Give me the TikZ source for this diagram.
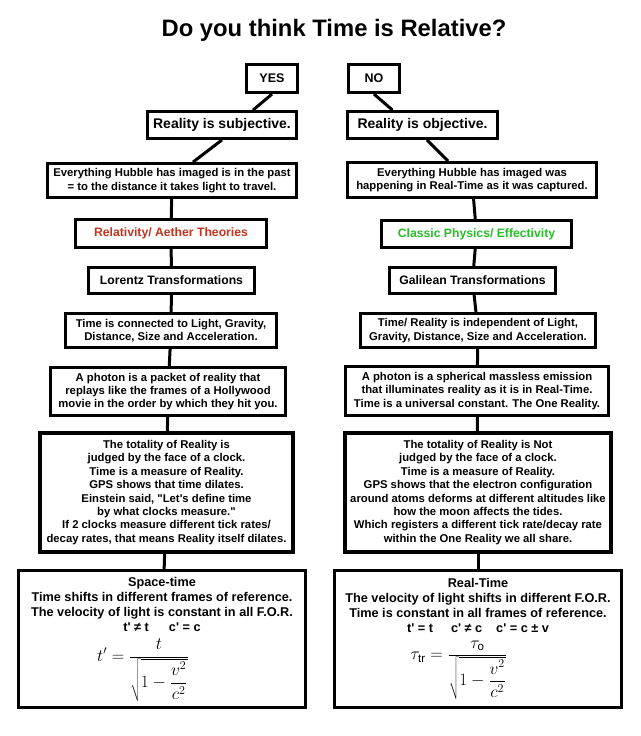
\documentclass[tikz,border=0pt]{standalone}
\usepackage{fontspec}
\setmainfont{Liberation Sans}[Ligatures=TeXOff]
\definecolor{RelRed}{RGB}{196,52,30}
\definecolor{RelGreen}{RGB}{40,190,40}
\tikzset{
  rel/box/.style={
    draw=black,
    line width=2.8pt,
    fill=white,
    align=center,
    inner sep=0pt,
    font=\bfseries\fontsize{11.3}{13.4}\selectfont
  },
  rel/bigbox/.style={rel/box, line width=3.6pt},
  rel/answer/.style={rel/box, line width=3.2pt, font=\bfseries\fontsize{12.5}{14}\selectfont},
  rel/claim/.style={rel/box, font=\bfseries\fontsize{14}{16}\selectfont},
  rel/label/.style={rel/box, font=\bfseries\fontsize{12.2}{14}\selectfont},
  rel/frame/.style={rel/box, font=\bfseries\fontsize{12.7}{15}\selectfont},
  rel/link/.style={line width=3pt, draw=black},
  rel/title/.style={font=\bfseries\fontsize{23.8}{28}\selectfont}
}

\begin{document}
\begin{tikzpicture}[x=1pt,y=-1pt]
  \useasboundingbox (0,0) rectangle (640,736);
  \node[rel/title] (title) at (334,30) {Do you think Time is Relative?};
  \node[rel/answer,minimum width=51,minimum height=28] (yes) at (272,78.5) {YES};
  \node[rel/answer,minimum width=51,minimum height=28] (no) at (374,78.5) {NO};
  \node[rel/claim,minimum width=149,minimum height=27] (subj) at (222,125) {Reality is subjective.};
  \node[rel/claim,minimum width=150,minimum height=27] (obj) at (422.5,125) {Reality is objective.};
  \node[rel/box,minimum width=249,minimum height=34] (hubL) at (172,180.5) {Everything Hubble has imaged is in the past\\= to the distance it takes light to travel.};
  \node[rel/box,minimum width=249,minimum height=35] (hubR) at (472,180) {Everything Hubble has imaged was\\happening in Real-Time as it was captured.};
  \node[rel/label,text=RelRed,minimum width=191,minimum height=28] (relL) at (171,233.5) {Relativity/ Aether Theories};
  \node[rel/label,text=RelGreen,minimum width=190,minimum height=27] (relR) at (476.5,234) {Classic Physics/ Effectivity};
  \node[rel/label,minimum width=166,minimum height=26] (lorL) at (171.5,280.5) {Lorentz Transformations};
  \node[rel/label,minimum width=166,minimum height=26] (galR) at (472.5,280.5) {Galilean Transformations};
  \node[rel/box,minimum width=211,minimum height=34] (timeL) at (171,330.5) {Time is connected to Light, Gravity,\\Distance, Size and Acceleration.};
  \node[rel/box,minimum width=235,minimum height=34] (timeR) at (478,330.5) {Time/ Reality is independent of Light,\\Gravity, Distance, Size and Acceleration.};
  \node[rel/box,minimum width=235,minimum height=48] (photL) at (168,391.5) {A photon is a packet of reality that\\replays like the frames of a Hollywood\\movie in the order by which they hit you.};
  \node[rel/box,minimum width=263,minimum height=49] (photR) at (477,391) {A photon is a spherical massless emission\\that illuminates reality as it is in Real-Time.\\Time is a universal constant. The One Reality.};
  \node[rel/bigbox,minimum width=253,minimum height=119] (totL) at (166.5,492.5) {The totality of Reality is\\judged by the face of a clock.\\Time is a measure of Reality.\\GPS shows that time dilates.\\Einstein said, "Let's define time\\by what clocks measure."\\If 2 clocks measure different tick rates/\\decay rates, that means Reality itself dilates.};
  \node[rel/bigbox,minimum width=266,minimum height=119] (totR) at (478,492.5) {The totality of Reality is Not\\judged by the face of a clock.\\Time is a measure of Reality.\\GPS shows that the electron configuration\\around atoms deforms at different altitudes like\\how the moon affects the tides.\\Which registers a different tick rate/decay rate\\within the One Reality we all share.};
  \node[rel/frame,minimum width=287,minimum height=137] (spaceL) at (162,639) {Space-time\\Time shifts in different frames of reference.\\The velocity of light is constant in all F.O.R.\\t' ≠ t\hspace{20pt}c' = c\\[7pt]\hspace*{-38pt}{\fontsize{16.5}{19}\selectfont$\displaystyle t'=\frac{t}{\sqrt{1-{\displaystyle\frac{v^2}{c^2}}}}$}};
  \node[rel/frame,minimum width=287,minimum height=137] (realR) at (478,639) {Real-Time\\The velocity of light shifts in different F.O.R.\\Time is constant in all frames of reference.\\t' = t\hspace{18pt}c' ≠ c\hspace{14pt}c' = c ± v\\[7pt]\hspace*{-38pt}{\fontsize{16.5}{19}\selectfont$\displaystyle \tau_{\mathrm{tr}}=\frac{\tau_{\mathrm{o}}}{\sqrt{1-{\displaystyle\frac{v^2}{c^2}}}}$}};
  \draw[rel/link] (yes.south) -- ([xshift=31pt]subj.north);
  \draw[rel/link] (no.south) -- ([xshift=-30pt]obj.north);
  \draw[rel/link] (subj.south) -- ([xshift=21pt]hubL.north);
  \draw[rel/link] ([xshift=4.5pt]obj.south) -- ([xshift=-24pt]hubR.north);
  \foreach \a/\b in {hubL/relL,relL/lorL,lorL/timeL,timeL/photL,photL/totL,totL/spaceL,hubR/relR,relR/galR,galR/timeR,timeR/photR,photR/totR,totR/realR}{\draw[rel/link] (\a) -- (\b);}
\end{tikzpicture}
\end{document}
